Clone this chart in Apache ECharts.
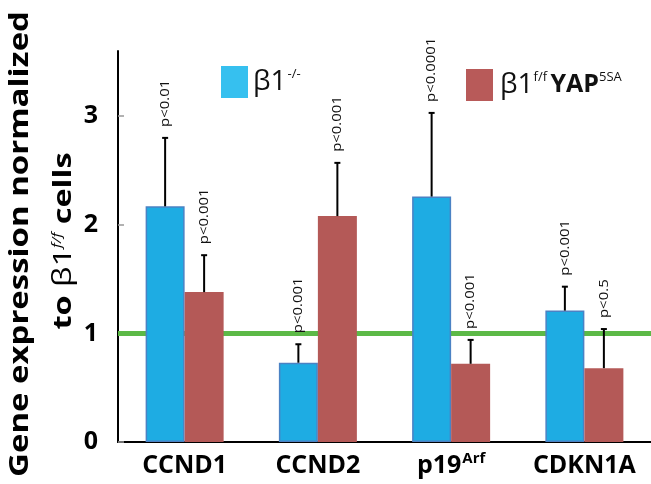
<!DOCTYPE html>
<html><head><meta charset="utf-8">
<script src="https://cdn.jsdelivr.net/npm/echarts@6/dist/echarts.min.js"></script>
<style>html,body{margin:0;padding:0;background:#fff}#c{width:651px;height:484px}</style>
</head><body><div id="c"></div>
<script>
const categories = ['CCND1', 'CCND2', 'p19', 'CDKN1A'];
const categorySup = ['', '', 'Arf', ''];
const seriesNames = ['β1-/-', 'β1f/f YAP5SA'];
const blueValues = [2.17, 0.73, 2.26, 1.21];
const blueErrTop = [2.80, 0.90, 3.03, 1.43];
const redValues = [1.38, 2.08, 0.72, 0.68];
const redErrTop = [1.72, 2.57, 0.94, 1.04];
const blueP = ['p<0.01', 'p<0.001', 'p<0.0001', 'p<0.001'];
const redP = ['p<0.001', 'p<0.001', 'p<0.001', 'p<0.5'];
const yTicks = [0, 1, 2, 3];
const refLine = 1;

const FF = '"Open Sans", "Noto Sans", sans-serif';
const BAR_W = 39;

function errRender(offset, values, tops, labels) {
  return function (params, api) {
    const i = params.dataIndex;
    const base = api.coord([i, values[i]]);
    const top = api.coord([i, tops[i]]);
    const x = base[0] + offset;
    return {
      type: 'group',
      children: [
        {type: 'line', shape: {x1: x, y1: base[1], x2: x, y2: top[1]}, style: {stroke: '#000', lineWidth: 2}},
        {type: 'line', shape: {x1: x - 3, y1: top[1], x2: x + 3, y2: top[1]}, style: {stroke: '#000', lineWidth: 2}},
        {type: 'text', x: x, y: top[1] - 11, rotation: Math.PI / 2, scaleX: 1.15,
          style: {text: labels[i], align: 'left', verticalAlign: 'middle', fontSize: 13, fontFamily: FF, fill: '#111'}}
      ]
    };
  };
}

const chart = echarts.init(document.getElementById('c'));
chart.setOption({
  animation: false,
  backgroundColor: '#fff',
  grid: {left: 118, right: 0, top: 51, bottom: 42, containLabel: false, outerBoundsMode: 'none'},
  xAxis: {
    type: 'category',
    data: categories,
    axisLine: {lineStyle: {color: '#000', width: 2}},
    axisTick: {show: false},
    axisLabel: {
      margin: 9,
      formatter: function (v, i) {
        const s = categorySup[i];
        return s ? '{b|' + v + '}{s|' + s + '}' : '{b|' + v + '}';
      },
      rich: {
        b: {fontSize: 25, fontWeight: 'bold', fontFamily: FF, color: '#000', lineHeight: 30},
        s: {fontSize: 15, fontWeight: 'bold', fontFamily: FF, color: '#000', lineHeight: 30, verticalAlign: 'top', padding: [0, 0, 12, 1]}
      }
    }
  },
  yAxis: {
    type: 'value', min: 0, max: 3.6,
    axisLine: {show: true, lineStyle: {color: '#000', width: 2}},
    axisTick: {show: true, inside: true, length: 6, customValues: yTicks, lineStyle: {color: '#999', width: 1.5}},
    axisLabel: {customValues: yTicks, fontSize: 25, fontWeight: 'bold', fontFamily: FF, color: '#000', margin: 20},
    splitLine: {show: false}
  },
  legend: [
    {
      data: [{name: seriesNames[0], itemStyle: {color: '#36c0ef', borderWidth: 0}}],
      left: 216, top: 61, itemWidth: 27, itemHeight: 32, icon: 'rect', selectedMode: false,
      formatter: function () { return '{g|β1}{s|-/-}'; },
      textStyle: {rich: {
        g: {fontSize: 28, fontFamily: FF, color: '#111'},
        s: {fontSize: 13, fontFamily: FF, color: '#111', verticalAlign: 'top', padding: [0, 0, 0, 1]}
      }}
    },
    {
      data: [{name: seriesNames[1], itemStyle: {color: '#b85a59', borderWidth: 0}}],
      left: 461, top: 64, itemWidth: 27, itemHeight: 32, icon: 'rect', selectedMode: false,
      formatter: function () { return '{g|β1}{s|f/f }{y|YAP}{s|5SA}'; },
      textStyle: {rich: {
        g: {fontSize: 28, fontFamily: FF, color: '#111', padding: [0, 0, 0, 2]},
        s: {fontSize: 13, fontFamily: FF, color: '#111', verticalAlign: 'top'},
        y: {fontSize: 25, fontWeight: 'bold', fontFamily: FF, color: '#111'}
      }}
    }
  ],
  graphic: [
    {type: 'text', x: 20, y: 244, rotation: Math.PI / 2, scaleX: 1.22,
      style: {text: 'Gene expression normalized', fontSize: 27, fontWeight: 'bold', fontFamily: FF, fill: '#000', align: 'center', verticalAlign: 'middle'}},
    {type: 'text', x: 64, y: 241, rotation: Math.PI / 2, scaleX: 1.3,
      style: {
        text: '{b|to }{g|β1}{s|f/f}{b| cells}', align: 'center', verticalAlign: 'middle',
        rich: {
          b: {fontSize: 25, fontWeight: 'bold', fontFamily: FF, color: '#000'},
          g: {fontSize: 25, fontFamily: FF, color: '#000'},
          s: {fontSize: 12, fontStyle: 'italic', fontFamily: FF, color: '#000', verticalAlign: 'top'}
        }
      }}
  ],
  series: [
    {
      type: 'line', data: [], z: 1, silent: true,
      markLine: {symbol: ['none', 'none'], silent: true, z: 1, label: {show: false},
        lineStyle: {color: '#5cb947', width: 5, type: 'solid'},
        data: [{yAxis: refLine}]}
    },
    {
      name: seriesNames[0], type: 'bar', data: blueValues, barWidth: BAR_W, barGap: '0%', z: 2,
      itemStyle: {color: '#1eace3', borderColor: '#4b82c4', borderWidth: 1.5}
    },
    {
      name: seriesNames[1], type: 'bar', data: redValues, barWidth: BAR_W, barGap: '0%', z: 2,
      itemStyle: {color: '#b45957'}
    },
    {
      type: 'custom', z: 3, data: blueValues.map((v, i) => [i, v]),
      renderItem: errRender(-BAR_W / 2, blueValues, blueErrTop, blueP)
    },
    {
      type: 'custom', z: 3, data: redValues.map((v, i) => [i, v]),
      renderItem: errRender(BAR_W / 2, redValues, redErrTop, redP)
    }
  ]
});
</script></body></html>
